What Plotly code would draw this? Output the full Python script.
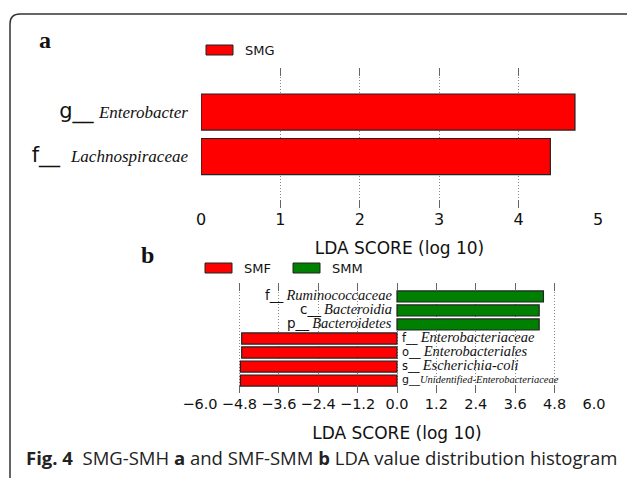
import plotly.graph_objects as go

W, H = 627, 478

# ---------------- data ----------------
a_names = ["Lachnospiraceae", "Enterobacter"]
a_prefix = ["f__", "g__"]
a_values = [4.40, 4.71]
a_group = "SMG"

b_names = ["Unidentified-Enterobacteriaceae", "Escherichia-coli", "Enterobacteriales",
           "Enterobacteriaceae", "Bacteroidetes", "Bacteroidia", "Ruminococcaceae"]
b_prefix = ["g__", "s__", "o__", "f__", "p__", "c__", "f__"]
b_values = [-4.77, -4.77, -4.73, -4.73, 4.33, 4.33, 4.46]
b_groups = ["SMF", "SMF", "SMF", "SMF", "SMM", "SMM", "SMM"]

a_ticks = [0, 1, 2, 3, 4, 5]
b_ticks = [-6.0, -4.8, -3.6, -2.4, -1.2, 0.0, 1.2, 2.4, 3.6, 4.8, 6.0]

colors = {"SMG": "#ff0000", "SMF": "#ff0000", "SMM": "#008000"}

def px(x):
    return x / W

def py(y):
    return 1 - y / H

SANS = "DejaVu Sans"
SERIF = "Liberation Serif"

fig = go.Figure()

# panel a bars
fig.add_trace(go.Bar(
    x=a_values, y=list(range(len(a_names))), orientation="h",
    marker=dict(color=colors[a_group], line=dict(color="#222", width=1.2)),
    width=0.81, xaxis="x", yaxis="y", showlegend=False, name=a_group))

# panel b bars
fig.add_trace(go.Bar(
    x=b_values, y=list(range(len(b_names))), orientation="h",
    marker=dict(color=[colors[g] for g in b_groups], line=dict(color="#222", width=1.2)),
    width=0.79, xaxis="x2", yaxis="y2", showlegend=False))

a_gap = {"f__": "&nbsp;&nbsp;", "g__": " "}
a_ticktext = [
    f"<span style=\"font-family:'{SANS}';font-size:21px\">{p}</span>{a_gap[p]}"
    f"<span style=\"font-family:'{SERIF}';font-style:italic;font-size:17px\">{n}</span>"
    for p, n in zip(a_prefix, a_names)]

grid = dict(showgrid=True, gridcolor="#888", griddash="1px,2px", gridwidth=1,
            zeroline=False, showline=False,
            ticks="inside", ticklen=8, tickcolor="#666", tickwidth=1,
            tickangle=0, automargin=False)

top_ticks = dict(side="top", ticks="inside", ticklen=8, tickcolor="#666", tickwidth=1,
                 showticklabels=False, showgrid=False, zeroline=False, showline=False,
                 automargin=False)

fig.update_layout(
    width=W, height=H, margin=dict(l=0, r=0, t=0, b=0, autoexpand=False),
    paper_bgcolor="white", plot_bgcolor="white",
    xaxis=dict(domain=[px(201), px(598)], range=[0, 5], tickvals=a_ticks,
               ticktext=[str(t) for t in a_ticks],
               tickfont=dict(family=SANS, size=16, color="#111"),
               anchor="y",
               title=dict(text="LDA SCORE (log 10)", font=dict(family=SANS, size=17, color="#111"),
                          standoff=14),
               **grid),
    xaxis3=dict(overlaying="x", anchor="y", range=[0, 5], tickvals=a_ticks, **top_ticks),
    yaxis=dict(domain=[py(208), py(68)], range=[-1.157, 1.989],
               tickvals=list(range(len(a_names))), ticktext=a_ticktext,
               tickfont=dict(family=SANS, size=17, color="#111"),
               showgrid=False, zeroline=False, showline=False, ticks="",
               ticklabelstandoff=12, automargin=False, anchor="x"),
    xaxis2=dict(domain=[px(200), px(594)], range=[-6, 6], tickvals=b_ticks,
                ticktext=[f"{t:.1f}".replace("-", "\u2212") for t in b_ticks],
                tickfont=dict(family=SANS, size=14.5, color="#111"),
                anchor="y2",
                title=dict(text="LDA SCORE (log 10)", font=dict(family=SANS, size=17, color="#111"),
                           standoff=16),
                **grid),
    xaxis4=dict(overlaying="x2", anchor="y2", range=[-6, 6], tickvals=b_ticks, **top_ticks),
    yaxis2=dict(domain=[py(393), py(283)], range=[-0.89, 6.96],
                showticklabels=False, showgrid=False, zeroline=False, showline=False,
                ticks="", automargin=False, anchor="x2"),
)

# invisible carriers so the top tick axes are drawn
fig.add_trace(go.Scatter(x=[a_ticks[0]], y=[0], xaxis="x3", yaxis="y", mode="markers",
                         marker=dict(opacity=0), showlegend=False, hoverinfo="skip"))
fig.add_trace(go.Scatter(x=[b_ticks[0]], y=[0], xaxis="x4", yaxis="y2", mode="markers",
                         marker=dict(opacity=0), showlegend=False, hoverinfo="skip"))

# panel b labels next to zero line
for i, (p, n, v) in enumerate(zip(b_prefix, b_names, b_values)):
    small = len(n) > 20
    if v > 0:
        psize, nsize, gap = 13.5, 14.5, " "
    elif small:
        psize, nsize, gap = 11, 10.5, ""
    else:
        psize, nsize, gap = 11.5, 14.5, " "
    txt = (f"<span style=\"font-family:'{SANS}';font-size:{psize}px\">{p}</span>{gap}"
           f"<span style=\"font-family:'{SERIF}';font-style:italic;font-size:{nsize}px\">{n}</span>")
    fig.add_annotation(x=0, y=i, xref="x2", yref="y2", text=txt, showarrow=False,
                       xanchor="right" if v > 0 else "left",
                       xshift=-4 if v > 0 else 4, yshift=1, borderpad=0,
                       font=dict(color="#111", size=12))

# panel letters
fig.add_annotation(x=px(37), y=py(40), xref="paper", yref="paper", text="<b>a</b>",
                   showarrow=False, xanchor="left", yanchor="middle",
                   font=dict(family=SERIF, size=24, color="#111"))
fig.add_annotation(x=px(139), y=py(255), xref="paper", yref="paper", text="<b>b</b>",
                   showarrow=False, xanchor="left", yanchor="middle",
                   font=dict(family=SERIF, size=24, color="#111"))

# legends (keys drawn as wide boxes)
legend_items = [("SMG", 206, 233, 50), ("SMF", 205, 232, 268), ("SMM", 293, 320, 268)]
for name, x0, x1, yc in legend_items:
    fig.add_shape(type="rect", xref="paper", yref="paper",
                  x0=px(x0), x1=px(x1), y0=py(yc + 5), y1=py(yc - 5),
                  fillcolor=colors[name], line=dict(color="#222", width=1))
    fig.add_annotation(x=px(x1 + 10), y=py(yc), xref="paper", yref="paper", text=name,
                       showarrow=False, xanchor="left", yanchor="middle",
                       font=dict(family=SANS, size=13, color="#111"))

# frame with rounded top-left corner
fx0, fy0, r = 10, 14, 10
path = (f"M {px(fx0)},{py(490)} L {px(fx0)},{py(fy0 + r)} "
        f"Q {px(fx0)},{py(fy0)} {px(fx0 + r)},{py(fy0)} L {px(650)},{py(fy0)}")
fig.add_shape(type="path", xref="paper", yref="paper", path=path,
              line=dict(color="#333", width=1.5))

# caption
fig.add_annotation(x=px(24), y=py(457), xref="paper", yref="paper",
                   text="<b>Fig. 4</b>  SMG-SMH <b>a</b> and SMF-SMM <b>b</b> LDA value distribution histogram",
                   showarrow=False, xanchor="left", yanchor="middle",
                   font=dict(family="Open Sans", size=18.5, color="#222"))

fig.write_html("out.html")
